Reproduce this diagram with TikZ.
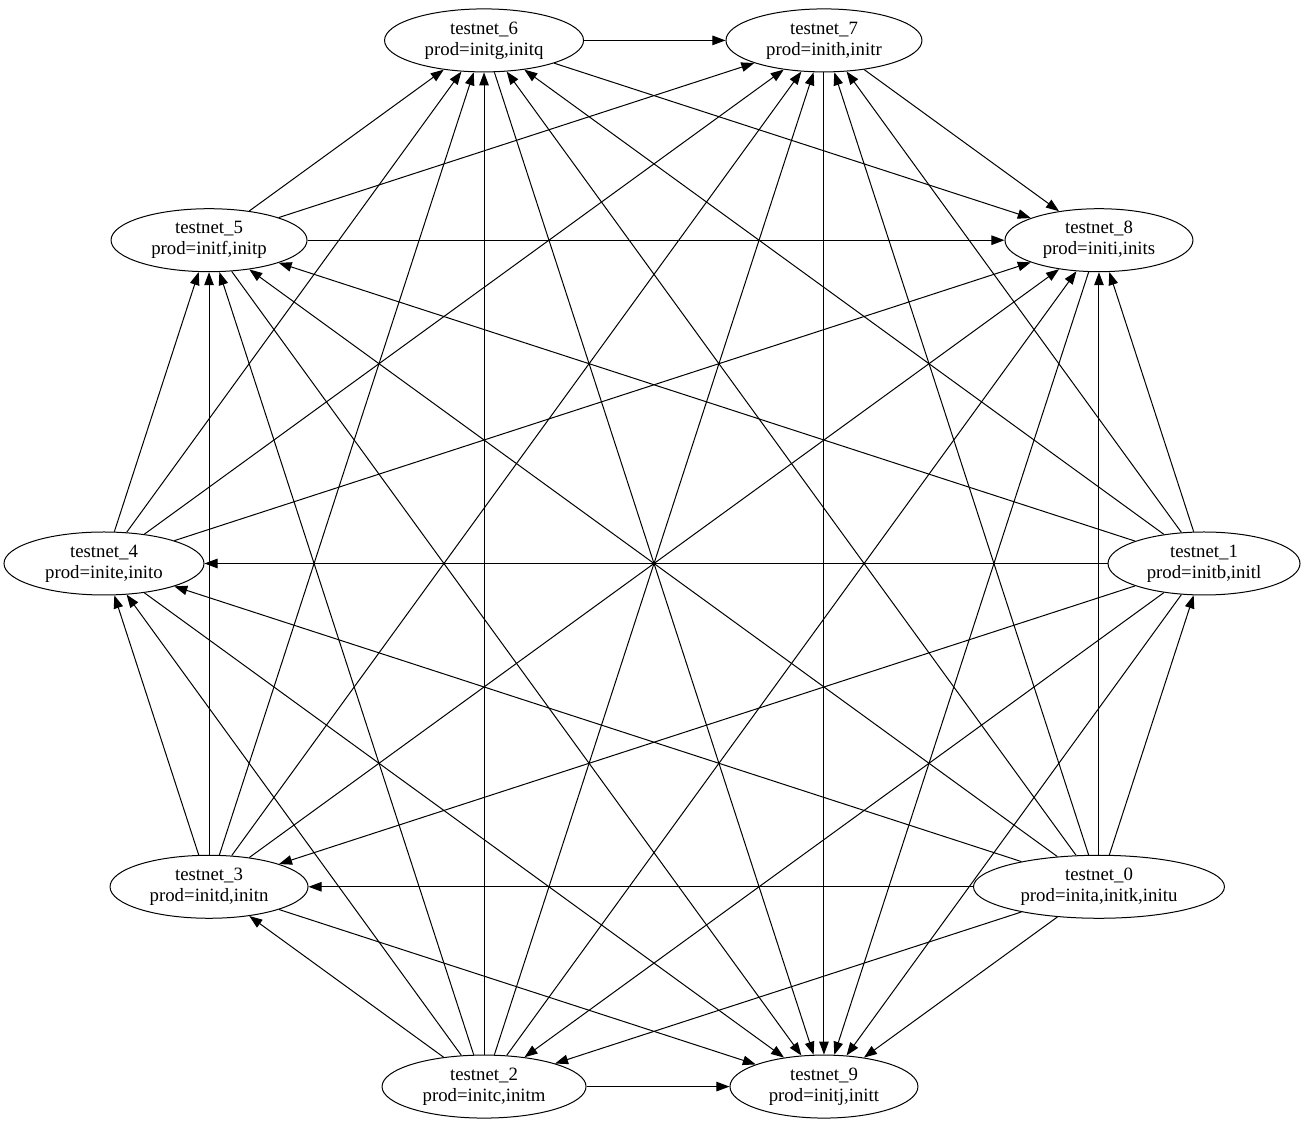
\documentclass[tikz,border=0pt]{standalone}
\usepackage{fontspec}
\setmainfont{Liberation Serif}
\usetikzlibrary{shapes.geometric,arrows.meta}
\begin{document}
\begin{tikzpicture}[x=1pt,y=1pt,
  gnode/.style={ellipse, draw, line width=1pt, inner sep=0pt, minimum height=63pt,
    align=center, font=\fontsize{18.8}{21}\selectfont},
  edge/.style={-{Triangle[length=13pt,width=9.5pt]}, line width=1pt}]
\useasboundingbox (0,0) rectangle (1306,1127);
\begin{scope}[shift={(654,563.5)}]
\node[gnode, minimum width=192pt] (n1) at (0:550)   {testnet\_1\\prod=initb,initl};
\node[gnode, minimum width=188pt] (n8) at (36:550)  {testnet\_8\\prod=initi,inits};
\node[gnode, minimum width=196pt] (n7) at (72:550)  {testnet\_7\\prod=inith,initr};
\node[gnode, minimum width=199pt] (n6) at (108:550) {testnet\_6\\prod=initg,initq};
\node[gnode, minimum width=196pt] (n5) at (144:550) {testnet\_5\\prod=initf,initp};
\node[gnode, minimum width=200pt] (n4) at (180:550) {testnet\_4\\prod=inite,inito};
\node[gnode, minimum width=198pt] (n3) at (216:550) {testnet\_3\\prod=initd,initn};
\node[gnode, minimum width=204pt] (n2) at (252:550) {testnet\_2\\prod=initc,initm};
\node[gnode, minimum width=188pt] (n9) at (288:550) {testnet\_9\\prod=initj,initt};
\node[gnode, minimum width=251pt] (n0) at (324:550) {testnet\_0\\prod=inita,initk,initu};
\end{scope}
\foreach \i in {0,...,8} {
  \pgfmathtruncatemacro\nxt{\i+1}
  \foreach \j in {\nxt,...,9} {
    \draw[edge] (n\i) -- (n\j);
  }
}
\end{tikzpicture}
\end{document}
